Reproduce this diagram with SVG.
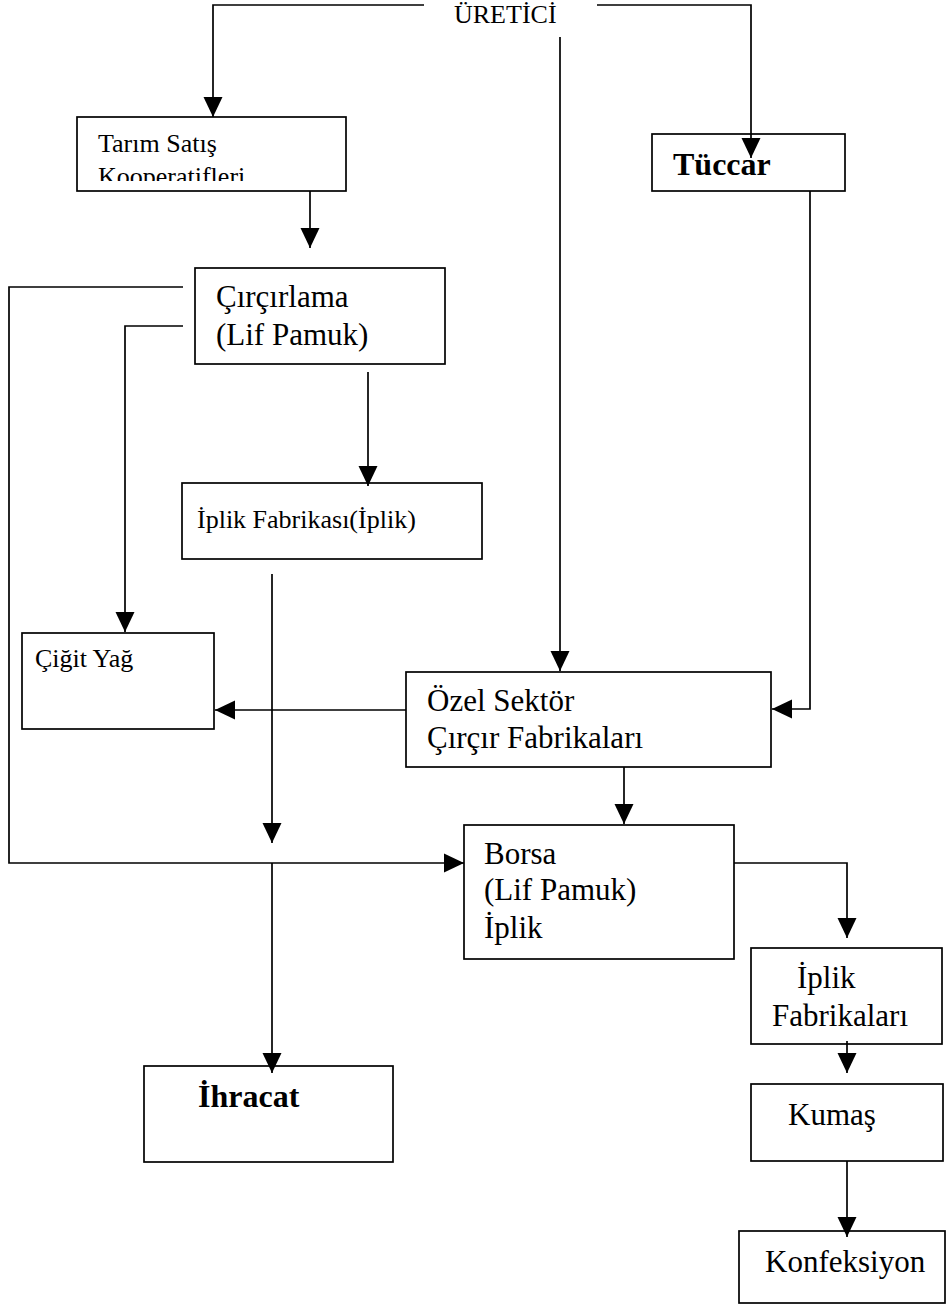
<svg xmlns="http://www.w3.org/2000/svg" width="946" height="1307" viewBox="0 0 946 1307">
<style>
.box{fill:#fff;stroke:#000;stroke-width:1.7}
.ln{fill:none;stroke:#000;stroke-width:1.7}
.arr{marker-end:url(#ah)}
text{font-family:"Liberation Serif","Times New Roman",serif;fill:#000}
.s26{font-size:26px}
.s31{font-size:31px}
.b{font-weight:bold;font-size:32px}
</style>
<defs>
<marker id="ah" markerUnits="userSpaceOnUse" markerWidth="20" markerHeight="20" viewBox="0 0 20 20" refX="20" refY="10" orient="auto">
<path d="M0,0.5 L20,10 L0,19.5 z" fill="#000"/>
</marker>
<clipPath id="clipTarim"><rect x="77" y="117" width="269" height="64"/></clipPath>
</defs>

<g id="uretici">
<text class="s26" x="454" y="23">ÜRETİCİ</text>
</g>

<g id="tarim">
<rect class="box" x="77" y="117" width="269" height="74"/>
<g clip-path="url(#clipTarim)">
<text class="s26" x="98" y="152">Tarım Satış</text>
<text class="s26" x="98" y="185">Kooperatifleri</text>
</g>
</g>

<g id="tuccar">
<rect class="box" x="652" y="134" width="193" height="57"/>
<text class="b" x="673" y="175">Tüccar</text>
</g>

<g id="circirlama">
<rect class="box" x="195" y="268" width="250" height="96"/>
<text class="s31" x="216" y="307">Çırçırlama</text>
<text class="s31" x="216" y="345">(Lif Pamuk)</text>
</g>

<g id="iplik-fabrikasi">
<rect class="box" x="182" y="483" width="300" height="76"/>
<text class="s26" x="197" y="528">İplik Fabrikası(İplik)</text>
</g>

<g id="cigit-yag">
<rect class="box" x="22" y="633" width="192" height="96"/>
<text class="s26" x="35" y="667">Çiğit Yağ</text>
</g>

<g id="ozel-sektor">
<rect class="box" x="406" y="672" width="365" height="95"/>
<text class="s31" x="427" y="711">Özel Sektör</text>
<text class="s31" x="427" y="748">Çırçır Fabrikaları</text>
</g>

<g id="borsa">
<rect class="box" x="464" y="825" width="270" height="134"/>
<text class="s31" x="484" y="864">Borsa</text>
<text class="s31" x="484" y="900">(Lif Pamuk)</text>
<text class="s31" x="484" y="938">İplik</text>
</g>

<g id="ihracat">
<rect class="box" x="144" y="1066" width="249" height="96"/>
<text class="b" x="198" y="1107">İhracat</text>
</g>

<g id="iplik-fabrikalari">
<rect class="box" x="751" y="948" width="191" height="96"/>
<text class="s31" x="797" y="988">İplik</text>
<text class="s31" x="772" y="1026">Fabrikaları</text>
</g>

<g id="kumas">
<rect class="box" x="751" y="1084" width="192" height="77"/>
<text class="s31" x="788" y="1125">Kumaş</text>
</g>

<g id="konfeksiyon">
<rect class="box" x="739" y="1231" width="206" height="72"/>
<text class="s31" x="765" y="1272">Konfeksiyon</text>
</g>

<g id="connectors">
<polyline class="ln arr" points="424,5 213,5 213,117"/>
<polyline class="ln arr" points="597,5 751,5 751,158"/>
<line class="ln arr" x1="560" y1="37" x2="560" y2="671"/>
<line class="ln arr" x1="310" y1="191" x2="310" y2="248"/>
<polyline class="ln arr" points="183,287 9,287 9,863 464,863"/>
<polyline class="ln arr" points="183,326 125,326 125,632"/>
<line class="ln arr" x1="368" y1="372" x2="368" y2="486"/>
<line class="ln arr" x1="272" y1="574" x2="272" y2="843"/>
<line class="ln arr" x1="272" y1="863" x2="272" y2="1073"/>
<polyline class="ln arr" points="810,191 810,709 772,709"/>
<line class="ln arr" x1="406" y1="710" x2="215" y2="710"/>
<line class="ln arr" x1="624" y1="767" x2="624" y2="824"/>
<polyline class="ln arr" points="734,863 847,863 847,938"/>
<line class="ln arr" x1="847" y1="1041" x2="847" y2="1073"/>
<line class="ln arr" x1="847" y1="1161" x2="847" y2="1237"/>
</g>
</svg>
